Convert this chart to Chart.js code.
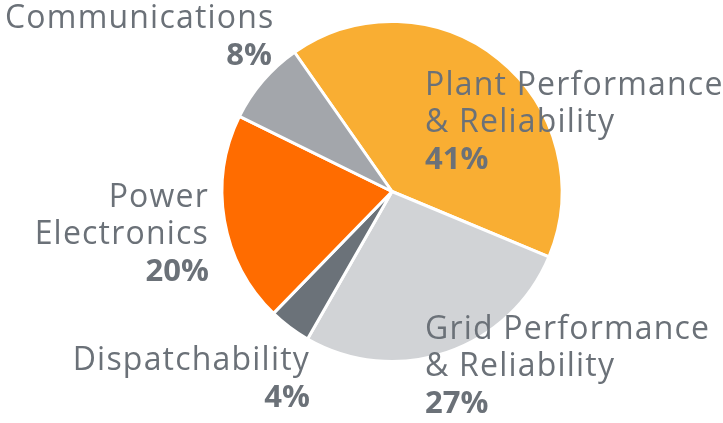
<!DOCTYPE html>
<html>
<head>
<meta charset="utf-8">
<script src="https://cdn.jsdelivr.net/npm/chart.js@4.4.1/dist/chart.umd.min.js"></script>
<style>
  html, body { margin: 0; padding: 0; background: #fff; }
  #wrap { width: 723px; height: 423px; }
</style>
</head>
<body>
<div id="wrap"><canvas id="myChart" width="723" height="423"></canvas></div>
<script>
// slice data, in drawing order (clockwise from the top-left)
let categories = ['Plant Performance & Reliability', 'Grid Performance & Reliability', 'Dispatchability', 'Power Electronics', 'Communications'];
let labelLines = [['Plant Performance', '& Reliability'], ['Grid Performance', '& Reliability'], ['Dispatchability'], ['Power', 'Electronics'], ['Communications']];
let values = [41, 27, 4, 20, 8];
let colors = ['#F9AE33', '#D1D3D6', '#6B7279', '#FF6C00', '#A3A6AB'];

// where each label block is anchored: [x, y of first baseline, align]
let labelPos = [[425, 95, 'left'], [425, 339, 'left'], [310, 370, 'right'], [209, 207, 'right'], [272, 28, 'right']];

let textColor = '#6B7178';
let lineGap = 37;

const sliceLabels = {
    id: 'sliceLabels',
    afterDatasetsDraw(chart) {
        let c = chart.ctx;
        c.save();
        c.fillStyle = textColor;
        c.textBaseline = 'alphabetic';
        for (let i = 0; i < labelLines.length; i++) {
            let [x, y, align] = labelPos[i];
            let lines = labelLines[i];
            c.font = '400 32px "Open Sans"';
            c.letterSpacing = '1.2px';
            // Communications: name starts at the left edge, percentage is right aligned
            if (i === 4) {
                c.textAlign = 'left';
                c.fillText(lines[0], 5, y);
            } else {
                c.textAlign = align;
                lines.forEach((t, k) => c.fillText(t, x, y + k * lineGap));
            }
            c.textAlign = align;
            c.font = '700 31px "Open Sans"';
            c.letterSpacing = '0px';
            c.fillText(values[i] + '%', x, y + lines.length * lineGap);
        }
        c.restore();
    }
};

let ctx = document.getElementById('myChart').getContext('2d');
let myChart = new Chart(ctx, {
    type: 'pie',
    data: {
        labels: categories,
        datasets: [{
            data: values,
            backgroundColor: colors,
            borderColor: '#ffffff',
            borderWidth: 3,
            hoverOffset: 0
        }]
    },
    options: {
        responsive: false,
        animation: false,
        rotation: -35,
        layout: { padding: { top: 20, bottom: 60, left: 100, right: 39 } },
        plugins: {
            legend: { display: false },
            tooltip: { enabled: false }
        }
    },
    plugins: [sliceLabels]
});
</script>
</body>
</html>
